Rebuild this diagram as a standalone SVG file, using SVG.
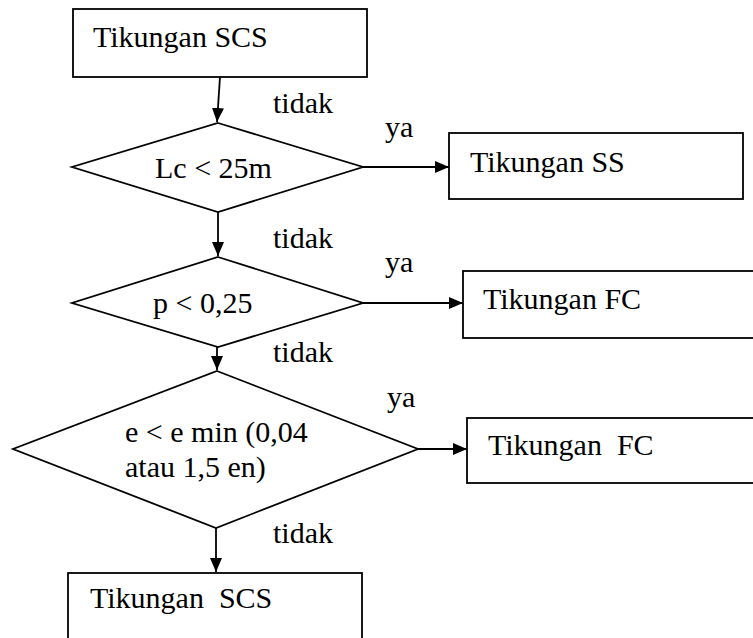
<svg xmlns="http://www.w3.org/2000/svg" width="753" height="638" viewBox="0 0 753 638">
<style>
.shape{fill:#fff;stroke:#000;stroke-width:1.8}
.t{font-family:"Liberation Serif","Times New Roman",serif;font-size:30px;fill:#000}
.c{stroke:#000;stroke-width:1.8;fill:none}
</style>
<defs>
<marker id="ah" markerUnits="userSpaceOnUse" markerWidth="15" markerHeight="12" refX="14" refY="6" orient="auto">
<path d="M0,0 L14,6 L0,12 Z" fill="#000"/>
</marker>
</defs>
<rect width="753" height="638" fill="#fff"/>
<g id="connectors">
<line class="c" x1="220" y1="77" x2="217" y2="122" marker-end="url(#ah)"/>
<line class="c" x1="363" y1="167" x2="449" y2="167" marker-end="url(#ah)"/>
<line class="c" x1="218" y1="212" x2="218" y2="256" marker-end="url(#ah)"/>
<line class="c" x1="363" y1="303" x2="463" y2="303" marker-end="url(#ah)"/>
<line class="c" x1="217" y1="347" x2="217" y2="370" marker-end="url(#ah)"/>
<line class="c" x1="418" y1="449" x2="467" y2="449" marker-end="url(#ah)"/>
<line class="c" x1="216" y1="528" x2="216" y2="572" marker-end="url(#ah)"/>
<text class="t" x="273" y="113">tidak</text>
<text class="t" x="385" y="137">ya</text>
<text class="t" x="273" y="248">tidak</text>
<text class="t" x="385" y="272">ya</text>
<text class="t" x="273" y="362">tidak</text>
<text class="t" x="387" y="407">ya</text>
<text class="t" x="273" y="543">tidak</text>
</g>
<g id="start">
<rect class="shape" x="73" y="9" width="294" height="68"/>
<text class="t" x="93" y="47">Tikungan SCS</text>
</g>
<g id="d1">
<polygon class="shape" points="218,123 363,167 218,212 72,167"/>
<text class="t" x="155" y="178">Lc &lt; 25m</text>
</g>
<g id="ss">
<rect class="shape" x="449" y="133" width="294" height="66"/>
<text class="t" x="470" y="172">Tikungan SS</text>
</g>
<g id="d2">
<polygon class="shape" points="218,257 363,303 218,347 72,303"/>
<text class="t" x="153" y="313">p &lt; 0,25</text>
</g>
<g id="fc1">
<rect class="shape" x="463" y="271" width="300" height="67"/>
<text class="t" x="483" y="309">Tikungan FC</text>
</g>
<g id="d3">
<polygon class="shape" points="217,371 418,449 216,528 13,449"/>
<text class="t" x="125" y="442">e &lt; e min (0,04</text>
<text class="t" x="125" y="477">atau 1,5 en)</text>
</g>
<g id="fc2">
<rect class="shape" x="467" y="418" width="300" height="65"/>
<text class="t" x="488" y="455" xml:space="preserve">Tikungan  FC</text>
</g>
<g id="end">
<rect class="shape" x="68" y="573" width="294" height="80"/>
<text class="t" x="90" y="608" xml:space="preserve">Tikungan  SCS</text>
</g>
</svg>
